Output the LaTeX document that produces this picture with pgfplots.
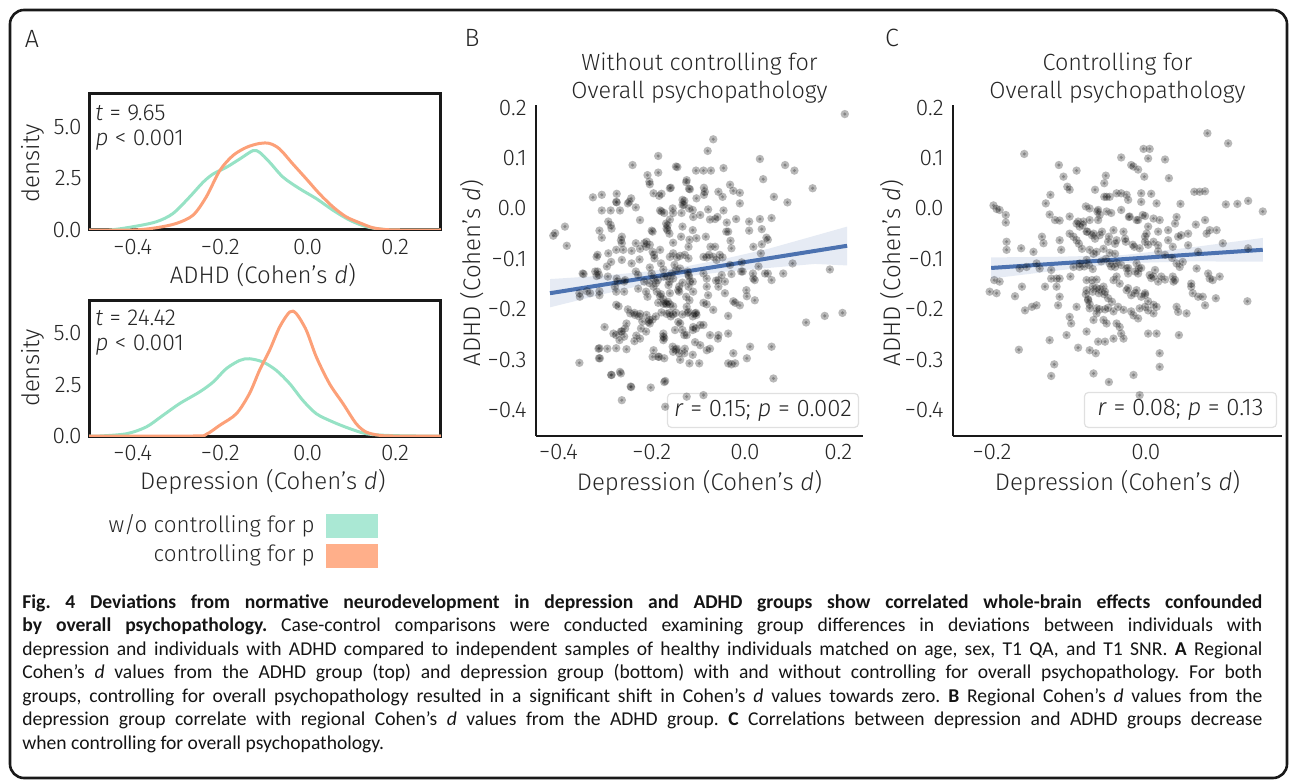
\documentclass[border=0pt]{standalone}
\usepackage{pgfplots}
\pgfplotsset{compat=1.18}
\usepackage{pgfplotstable}
\usepackage{fontspec}
\setmainfont{Fira Sans}[UprightFont=* Light, ItalicFont=* Light Italic, BoldFont=* Medium]
\newfontfamily\capfont{Carlito}
\newcommand{\ap}{{\char"27}}
\definecolor{txt}{RGB}{38,38,38}
\definecolor{gline}{RGB}{150,226,197}
\definecolor{oline}{RGB}{252,160,120}
\definecolor{gpatch}{RGB}{170,232,212}
\definecolor{opatch}{RGB}{255,175,138}
\definecolor{sblue}{RGB}{76,114,176}
\pgfdeclareplotmark{ring}{%
  \pgfpathcircle{\pgfpointorigin}{\pgfplotmarksize}\pgfusepathqfill
  \pgfpathcircle{\pgfpointorigin}{0.4\pgfplotmarksize}\pgfusepathqfill}

\pgfplotstableread{
x y
0.214 0.187
-0.068 0.137
-0.080 0.114
-0.186 0.104
0.032 0.098
-0.241 0.086
-0.145 0.082
-0.046 0.080
0.086 0.086
0.106 0.075
-0.105 0.075
-0.089 0.075
-0.073 0.075
-0.186 0.071
-0.209 0.066
-0.205 0.053
-0.204 0.048
-0.125 0.056
-0.126 0.052
0.039 0.058
-0.032 0.047
-0.161 0.040
-0.196 0.030
-0.179 0.029
-0.088 0.041
-0.086 0.033
-0.088 0.027
-0.118 0.038
-0.057 0.033
-0.048 0.023
-0.025 0.035
-0.011 0.031
0.145 0.040
0.062 0.023
-0.326 0.022
-0.307 0.027
-0.275 0.029
-0.244 0.020
-0.248 0.013
-0.275 0.012
-0.130 0.015
-0.131 0.007
-0.104 0.020
-0.011 0.010
0.091 0.012
-0.307 -0.004
-0.288 -0.004
-0.268 -0.004
-0.225 -0.023
-0.182 -0.004
-0.179 -0.006
-0.154 -0.009
-0.136 -0.009
-0.079 -0.002
-0.046 -0.004
-0.161 -0.022
-0.111 -0.017
-0.096 -0.013
-0.075 -0.022
-0.064 -0.021
-0.059 -0.017
-0.039 -0.028
-0.040 -0.046
-0.019 -0.021
0.009 -0.026
0.009 -0.044
0.032 -0.021
0.057 -0.019
-0.293 -0.026
-0.288 -0.033
-0.286 -0.040
-0.411 -0.054
-0.407 -0.049
-0.386 -0.036
-0.382 -0.074
-0.312 -0.044
-0.307 -0.058
-0.266 -0.063
-0.264 -0.056
-0.200 -0.044
-0.166 -0.033
-0.166 -0.043
-0.162 -0.050
-0.137 -0.056
-0.119 -0.062
-0.104 -0.059
-0.084 -0.056
-0.036 -0.046
0.036 -0.041
0.046 -0.058
-0.243 -0.084
-0.225 -0.080
-0.216 -0.069
-0.211 -0.066
-0.204 -0.072
-0.182 -0.082
-0.154 -0.068
-0.121 -0.076
-0.074 -0.076
-0.064 -0.076
-0.031 -0.064
-0.029 -0.079
0.018 -0.076
0.036 -0.071
-0.318 -0.096
-0.293 -0.089
-0.296 -0.115
-0.261 -0.082
-0.264 -0.102
-0.243 -0.109
-0.226 -0.101
-0.195 -0.092
-0.161 -0.096
-0.154 -0.089
-0.146 -0.097
-0.139 -0.094
-0.129 -0.092
-0.121 -0.099
-0.089 -0.096
-0.082 -0.097
-0.077 -0.092
-0.068 -0.096
-0.061 -0.102
-0.054 -0.092
-0.048 -0.097
-0.032 -0.112
-0.007 -0.107
-0.005 -0.125
0.029 -0.115
0.102 -0.109
0.182 -0.121
-0.346 -0.130
-0.321 -0.125
-0.318 -0.134
-0.275 -0.139
-0.257 -0.142
-0.229 -0.132
-0.204 -0.117
-0.200 -0.129
-0.196 -0.139
-0.175 -0.121
-0.174 -0.135
-0.157 -0.129
-0.154 -0.139
-0.139 -0.119
-0.121 -0.132
-0.118 -0.145
-0.089 -0.129
-0.082 -0.139
-0.057 -0.142
-0.050 -0.132
-0.043 -0.145
-0.029 -0.130
0.018 -0.139
0.021 -0.142
0.043 -0.129
0.057 -0.142
0.082 -0.129
-0.355 -0.168
-0.354 -0.175
-0.332 -0.168
-0.312 -0.172
-0.279 -0.155
-0.229 -0.159
-0.196 -0.155
-0.189 -0.165
-0.182 -0.174
-0.164 -0.152
-0.161 -0.168
-0.143 -0.162
-0.121 -0.155
-0.111 -0.165
-0.082 -0.155
-0.079 -0.172
-0.062 -0.143
-0.057 -0.155
-0.043 -0.168
-0.025 -0.184
-0.021 -0.187
-0.011 -0.192
0.004 -0.174
0.021 -0.182
-0.271 -0.194
-0.246 -0.208
-0.236 -0.211
-0.225 -0.209
-0.211 -0.211
-0.207 -0.225
-0.204 -0.228
-0.186 -0.187
-0.175 -0.189
-0.168 -0.190
-0.161 -0.190
-0.154 -0.194
-0.179 -0.206
-0.168 -0.209
-0.154 -0.210
-0.143 -0.225
-0.139 -0.228
-0.125 -0.195
-0.121 -0.205
-0.107 -0.208
-0.104 -0.211
-0.089 -0.187
-0.082 -0.190
-0.068 -0.201
-0.036 -0.213
-0.301 -0.235
-0.282 -0.248
-0.264 -0.244
-0.254 -0.228
-0.257 -0.238
-0.225 -0.258
-0.175 -0.248
-0.175 -0.254
-0.175 -0.261
-0.150 -0.241
-0.125 -0.251
-0.111 -0.235
-0.096 -0.231
-0.089 -0.231
-0.075 -0.251
-0.057 -0.251
-0.036 -0.248
0.131 -0.226
0.171 -0.213
0.209 -0.207
-0.314 -0.278
-0.311 -0.297
-0.295 -0.278
-0.254 -0.279
-0.196 -0.281
-0.186 -0.294
-0.154 -0.284
-0.146 -0.278
-0.129 -0.278
-0.107 -0.265
-0.096 -0.271
-0.082 -0.281
-0.075 -0.278
-0.025 -0.287
-0.021 -0.307
0.011 -0.274
0.004 -0.297
0.057 -0.274
-0.355 -0.306
-0.286 -0.330
-0.268 -0.324
-0.139 -0.300
-0.119 -0.307
-0.098 -0.307
-0.036 -0.307
-0.029 -0.309
0.061 -0.337
-0.245 -0.353
-0.202 -0.355
-0.171 -0.342
-0.264 -0.380
-0.171 -0.393
-0.148 0.083
-0.184 0.025
-0.159 0.041
-0.120 0.039
-0.276 0.013
-0.251 0.010
-0.234 0.002
-0.173 -0.009
-0.134 0.017
-0.134 0.007
-0.155 0.000
-0.120 0.000
-0.112 -0.003
-0.169 -0.030
-0.168 -0.040
-0.134 -0.036
-0.112 -0.043
-0.264 -0.069
-0.234 -0.069
-0.212 -0.076
-0.198 -0.046
-0.276 -0.082
-0.287 -0.106
-0.316 -0.092
-0.198 -0.086
-0.194 -0.099
-0.180 -0.109
-0.151 -0.112
-0.148 -0.122
-0.123 -0.125
-0.120 -0.135
-0.112 -0.145
-0.348 -0.129
-0.316 -0.125
-0.313 -0.132
-0.294 -0.135
-0.273 -0.145
-0.259 -0.145
-0.234 -0.125
-0.216 -0.145
-0.205 -0.148
-0.191 -0.148
-0.187 -0.142
-0.166 -0.135
-0.162 -0.145
-0.141 -0.155
-0.134 -0.147
-0.339 -0.164
-0.312 -0.164
-0.276 -0.165
-0.259 -0.165
-0.212 -0.165
-0.209 -0.175
-0.180 -0.170
-0.175 -0.180
-0.170 -0.188
-0.165 -0.185
-0.141 -0.165
-0.126 -0.175
-0.119 -0.182
-0.276 -0.191
-0.251 -0.200
-0.237 -0.207
-0.227 -0.214
-0.220 -0.224
-0.205 -0.221
-0.198 -0.220
-0.191 -0.214
-0.162 -0.207
-0.159 -0.214
-0.148 -0.207
-0.134 -0.210
-0.123 -0.207
-0.112 -0.214
-0.105 -0.207
-0.276 -0.251
-0.266 -0.244
-0.259 -0.254
-0.269 -0.261
-0.233 -0.252
-0.237 -0.263
-0.223 -0.238
-0.212 -0.244
-0.173 -0.257
-0.130 -0.251
-0.134 -0.241
-0.112 -0.241
-0.105 -0.238
-0.155 -0.274
-0.148 -0.280
-0.141 -0.287
-0.130 -0.287
-0.112 -0.290
-0.312 -0.277
-0.313 -0.297
-0.276 -0.277
-0.198 -0.294
-0.184 -0.294
-0.173 -0.297
-0.287 -0.330
-0.266 -0.327
-0.173 -0.344
-0.244 -0.354
0.049 -0.062
0.034 -0.089
0.049 -0.129
-0.008 -0.125
0.017 -0.129
0.003 -0.162
-0.058 -0.258
-0.125 -0.373
-0.089 -0.370
}\Bdata

\pgfplotstableread{
x y
0.080 0.149
0.107 0.129
-0.158 0.108
-0.003 0.118
0.005 0.118
-0.032 0.101
0.003 0.099
0.025 0.097
-0.113 0.086
-0.090 0.075
-0.019 0.086
-0.016 0.083
-0.010 0.077
-0.052 0.065
-0.054 0.050
-0.002 0.063
0.030 0.060
-0.107 0.063
-0.102 0.043
-0.099 0.037
-0.066 0.037
-0.051 0.023
-0.038 0.030
-0.032 0.030
-0.025 0.027
-0.023 0.017
-0.006 0.030
-0.006 0.013
0.007 0.029
0.063 0.033
0.070 0.033
0.077 0.034
-0.124 0.027
-0.130 0.010
-0.198 0.006
-0.194 -0.001
-0.190 -0.003
-0.182 -0.013
-0.182 -0.028
0.104 0.008
0.119 0.009
0.133 0.015
0.152 -0.006
0.014 0.010
0.045 0.009
-0.125 -0.012
-0.118 -0.023
-0.112 -0.024
-0.099 -0.016
-0.088 -0.026
-0.081 -0.026
-0.073 -0.023
-0.063 -0.006
-0.051 -0.006
-0.045 -0.009
-0.062 -0.023
-0.022 -0.017
-0.012 -0.023
-0.001 -0.015
0.010 -0.020
0.018 -0.023
0.040 -0.017
0.038 -0.030
0.065 -0.032
0.077 -0.023
-0.181 -0.066
-0.181 -0.082
-0.162 -0.079
-0.146 -0.086
-0.135 -0.056
-0.133 -0.069
-0.112 -0.063
-0.110 -0.082
-0.099 -0.050
-0.094 -0.056
-0.090 -0.063
-0.077 -0.046
-0.068 -0.050
-0.060 -0.053
-0.049 -0.066
-0.038 -0.063
-0.027 -0.060
-0.042 -0.043
-0.029 -0.046
-0.015 -0.076
-0.001 -0.066
-0.001 -0.056
0.001 -0.050
0.010 -0.066
0.016 -0.073
0.029 -0.063
0.035 -0.076
0.046 -0.053
0.055 -0.073
0.079 -0.050
0.083 -0.043
0.092 -0.043
0.100 -0.069
0.133 -0.079
0.068 -0.086
-0.197 -0.142
-0.190 -0.145
-0.203 -0.165
-0.194 -0.168
-0.170 -0.174
-0.161 -0.155
-0.157 -0.202
-0.148 -0.195
-0.142 -0.192
-0.164 -0.119
-0.155 -0.116
-0.142 -0.109
-0.138 -0.119
-0.123 -0.122
-0.123 -0.139
-0.116 -0.139
-0.112 -0.139
-0.131 -0.155
-0.116 -0.155
-0.112 -0.175
-0.114 -0.192
-0.098 -0.135
-0.094 -0.116
-0.086 -0.116
-0.077 -0.102
-0.077 -0.142
-0.070 -0.142
-0.064 -0.141
-0.077 -0.162
-0.069 -0.165
-0.061 -0.168
-0.053 -0.165
-0.090 -0.195
-0.075 -0.182
-0.073 -0.198
-0.064 -0.208
-0.068 -0.221
-0.053 -0.200
-0.049 -0.197
-0.042 -0.204
-0.036 -0.195
-0.029 -0.201
-0.042 -0.142
-0.038 -0.135
-0.034 -0.149
-0.025 -0.162
-0.019 -0.172
-0.012 -0.162
-0.006 -0.175
-0.001 -0.168
-0.047 -0.109
-0.040 -0.116
-0.025 -0.119
-0.023 -0.129
-0.012 -0.109
-0.009 -0.119
-0.010 -0.129
0.005 -0.132
0.010 -0.135
0.012 -0.122
0.020 -0.135
0.035 -0.135
0.038 -0.142
0.040 -0.109
0.044 -0.116
0.048 -0.106
0.066 -0.119
0.059 -0.149
0.059 -0.155
0.061 -0.168
0.068 -0.175
0.074 -0.175
0.081 -0.129
0.083 -0.139
0.087 -0.142
0.096 -0.135
0.077 -0.192
0.091 -0.178
0.132 -0.184
0.040 -0.195
0.042 -0.205
0.053 -0.208
-0.001 -0.195
0.003 -0.202
0.010 -0.208
0.014 -0.195
-0.016 -0.212
-0.010 -0.218
-0.038 -0.228
-0.034 -0.235
-0.055 -0.221
-0.051 -0.228
-0.099 -0.215
-0.097 -0.228
-0.125 -0.261
-0.103 -0.251
-0.077 -0.244
-0.062 -0.264
-0.053 -0.264
-0.042 -0.258
-0.032 -0.248
-0.029 -0.258
0.003 -0.248
0.014 -0.248
0.043 -0.251
-0.165 -0.280
-0.088 -0.276
-0.073 -0.281
-0.065 -0.287
0.018 -0.287
0.018 -0.314
-0.119 -0.309
-0.123 -0.332
-0.068 -0.327
-0.016 -0.330
-0.048 -0.344
-0.054 0.023
-0.047 0.023
-0.078 0.004
-0.073 0.000
-0.062 -0.003
-0.060 -0.013
-0.090 -0.030
-0.086 -0.036
-0.082 -0.033
-0.076 -0.046
-0.070 -0.053
-0.066 -0.060
-0.057 -0.046
-0.048 -0.056
-0.040 -0.070
-0.087 -0.070
-0.083 -0.080
-0.073 -0.082
-0.068 -0.090
-0.064 -0.086
-0.055 -0.080
-0.047 -0.088
-0.040 -0.090
-0.086 -0.109
-0.080 -0.115
-0.074 -0.112
-0.069 -0.120
-0.058 -0.105
-0.052 -0.100
-0.045 -0.115
-0.038 -0.108
-0.069 -0.155
-0.064 -0.158
-0.060 -0.160
-0.055 -0.155
-0.078 -0.170
-0.075 -0.180
-0.073 -0.190
-0.054 -0.170
-0.049 -0.178
-0.044 -0.185
-0.064 -0.198
-0.060 -0.200
-0.032 -0.003
-0.021 -0.016
-0.010 -0.023
-0.004 -0.013
0.003 -0.036
0.016 -0.046
0.029 -0.043
0.042 -0.056
0.055 -0.050
-0.026 -0.066
-0.017 -0.072
-0.008 -0.079
0.003 -0.072
0.016 -0.085
0.025 -0.092
0.034 -0.098
-0.032 -0.112
-0.023 -0.118
-0.014 -0.125
-0.006 -0.118
0.007 -0.138
0.016 -0.145
0.025 -0.141
0.036 -0.145
-0.023 -0.158
-0.014 -0.168
-0.001 -0.171
0.003 -0.184
0.010 -0.191
-0.008 -0.198
-0.019 -0.204
-0.008 -0.370
}\Cdata

\pgfplotsset{
  densax/.style={
    anchor=south west, scale only axis, width=176pt,
    xmin=-0.5, xmax=0.305, ymin=0, ymax=6.6,
    axis line style={line width=1.5pt, black!90},
    major tick length=0pt,
    xtick={-0.4,-0.2,0,0.2}, xticklabels={−0.4,−0.2,0.0,0.2},
    ytick={0,2.5,5}, yticklabels={0.0,2.5,5.0},
    tick label style={font=\fontsize{11.3}{12}\selectfont, text=txt},
    xticklabel style={inner sep=0pt, yshift=-4.5pt},
    yticklabel style={inner sep=0pt, xshift=-3.5pt},
    label style={font=\fontsize{12}{13}\selectfont, text=txt},
    ylabel={density},
  },
  scatax/.style={
    anchor=south west, scale only axis, height=165.5pt,
    ymin=-0.451, ymax=0.205,
    axis x line*=bottom, axis y line*=left,
    axis line style={line width=1.1pt, black!90},
    major tick length=0pt, clip=false,
    ytick={-0.4,-0.3,-0.2,-0.1,0,0.1,0.2},
    yticklabels={−0.4,−0.3,−0.2,−0.1,0.0,0.1,0.2},
    tick label style={font=\fontsize{11.3}{12}\selectfont, text=txt},
    xticklabel style={inner sep=0pt, yshift=-4pt},
    yticklabel style={inner sep=0pt, xshift=-4.5pt},
    label style={font=\fontsize{12}{13}\selectfont, text=txt},
    xlabel={Depression (Cohen\ap s \textit{d})},
    ylabel={ADHD (Cohen\ap s \textit{d})},
  },
  pts/.style={only marks, mark=ring, mark size=2.1pt, mark options={fill=black, fill opacity=0.28, draw=none}},
}

\begin{document}
\begin{tikzpicture}[x=0.5pt,y=-0.5pt]
\useasboundingbox (0,0) rectangle (1290,780);
\draw[line width=1.3pt, rounded corners=7pt, black!90] (10,10) rectangle (1287,778);

% ---------- A top ----------
\begin{axis}[densax, at={(44.5pt,-115pt)}, height=68pt,
  xlabel={ADHD (Cohen\ap s \textit{d})},
  xlabel style={at={(axis description cs:0.494,-0.328)}, anchor=center},
  ylabel style={at={(axis description cs:-0.159,0.489)}, anchor=center}]
\addplot[gline, line width=1.5pt, smooth] coordinates {
(-0.50,0) (-0.453,0.0) (-0.399,0.16) (-0.346,0.40) (-0.308,0.80) (-0.270,1.60) (-0.239,2.32)
(-0.216,2.72) (-0.186,3.04) (-0.155,3.45) (-0.125,3.85) (-0.110,3.77) (-0.087,3.29)
(-0.056,2.56) (-0.018,2.00) (0.020,1.52) (0.058,0.96) (0.096,0.48) (0.134,0.16) (0.172,0.03) (0.21,0) (0.305,0)};
\addplot[oline, line width=1.5pt, smooth] coordinates {
(-0.50,0) (-0.399,0) (-0.346,0.11) (-0.300,0.32) (-0.262,0.72) (-0.232,1.60) (-0.201,2.88)
(-0.171,3.61) (-0.140,4.01) (-0.110,4.20) (-0.087,4.20) (-0.064,3.93) (-0.034,3.21)
(-0.003,2.48) (0.027,1.76) (0.058,1.12) (0.088,0.64) (0.119,0.35) (0.149,0.11) (0.180,0.02) (0.21,0) (0.305,0)};
\end{axis}

% ---------- A bottom ----------
\begin{axis}[densax, at={(44.5pt,-218pt)}, height=68pt,
  xlabel={Depression (Cohen\ap s \textit{d})},
  xlabel style={at={(axis description cs:0.494,-0.338)}, anchor=center},
  ylabel style={at={(axis description cs:-0.159,0.5)}, anchor=center}]
\addplot[gline, line width=1.5pt, smooth] coordinates {
(-0.50,0) (-0.475,0) (-0.414,0.11) (-0.369,0.44) (-0.331,1.00) (-0.293,1.57) (-0.247,2.14)
(-0.216,2.62) (-0.186,3.27) (-0.155,3.67) (-0.133,3.75) (-0.102,3.59) (-0.072,3.19)
(-0.041,2.54) (-0.011,1.73) (0.020,1.08) (0.058,0.68) (0.096,0.36) (0.134,0.11) (0.180,0.03) (0.248,0) (0.305,0)};
\addplot[oline, line width=1.5pt, smooth] coordinates {
(-0.50,0) (-0.262,0) (-0.232,0.08) (-0.201,0.52) (-0.163,1.08) (-0.133,2.06) (-0.110,3.19)
(-0.087,4.16) (-0.064,5.29) (-0.041,6.02) (-0.026,5.94) (-0.003,5.13) (0.020,3.83)
(0.050,2.54) (0.081,1.57) (0.111,0.60) (0.134,0.19) (0.165,0.03) (0.195,0) (0.305,0)};
\end{axis}

% ---------- B ----------
\begin{axis}[scatax, at={(268pt,-218pt)}, width=163.5pt,
  xmin=-0.448, xmax=0.253,
  xtick={-0.4,-0.2,0,0.2}, xticklabels={−0.4,−0.2,0.0,0.2},
  xlabel style={at={(axis description cs:0.5,-0.142)}, anchor=center},
  ylabel style={at={(axis description cs:-0.196,0.492)}, anchor=center}]
\addplot[pts] table {\Bdata};
\addplot[draw=none, fill=sblue, fill opacity=0.14] coordinates {
(-0.418,-0.140) (-0.3,-0.133) (-0.2,-0.124) (-0.13,-0.1155) (-0.05,-0.101) (0.05,-0.080) (0.15,-0.054) (0.219,-0.036)
(0.219,-0.113) (0.15,-0.110) (0.05,-0.118) (-0.05,-0.126) (-0.13,-0.1355) (-0.2,-0.148) (-0.3,-0.169) (-0.418,-0.196)};
\addplot[sblue, line width=2pt] coordinates {(-0.418,-0.168) (0.219,-0.074)};
\node[draw=black!12, fill=white, fill opacity=0.8, text opacity=1, rounded corners=2pt, line width=0.6pt,
  anchor=south east, minimum width=95.5pt, minimum height=17pt, inner sep=0pt,
  font=\fontsize{12}{14}\selectfont, text=txt] at (axis description cs:0.988,0.024)
  {\textit{r} = 0.15; \textit{p} = 0.002};
\node[anchor=base, font=\fontsize{11.7}{13}\selectfont, text=txt] at (axis description cs:0.5,1.1027) {Without controlling for};
\node[anchor=base, font=\fontsize{11.7}{13}\selectfont, text=txt] at (axis description cs:0.5,1.0182) {Overall psychopathology};
\end{axis}

% ---------- C ----------
\begin{axis}[scatax, at={(476.5pt,-218pt)}, width=164.5pt,
  xmin=-0.2506, xmax=0.177,
  xtick={-0.2,0}, xticklabels={−0.2,0.0},
  xlabel style={at={(axis description cs:0.5,-0.142)}, anchor=center},
  ylabel style={at={(axis description cs:-0.185,0.492)}, anchor=center}]
\addplot[pts] table {\Cdata};
\addplot[draw=none, fill=sblue, fill opacity=0.14] coordinates {
(-0.201,-0.097) (-0.12,-0.096) (-0.03,-0.0925) (0.06,-0.077) (0.152,-0.0585)
(0.152,-0.1055) (0.06,-0.105) (-0.03,-0.1085) (-0.12,-0.124) (-0.201,-0.139)};
\addplot[sblue, line width=2pt] coordinates {(-0.201,-0.118) (0.152,-0.082)};
\node[draw=black!12, fill=white, fill opacity=0.8, text opacity=1, rounded corners=2pt, line width=0.6pt,
  anchor=south east, minimum width=96pt, minimum height=17.5pt, inner sep=0pt,
  font=\fontsize{12}{14}\selectfont, text=txt] at (axis description cs:0.985,0.024)
  {\textit{r} = 0.08; \textit{p} = 0.13};
\node[anchor=base, font=\fontsize{11.7}{13}\selectfont, text=txt] at (axis description cs:0.5,1.1027) {Controlling for};
\node[anchor=base, font=\fontsize{11.7}{13}\selectfont, text=txt] at (axis description cs:0.5,1.0182) {Overall psychopathology};
\end{axis}

% ---------- annotations, panel letters, legend ----------
\begin{scope}[every node/.style={text=txt, inner sep=0pt}]
\node[anchor=west, font=\fontsize{11.5}{12}\selectfont] at (95,113) {\textit{t} = 9.65};
\node[anchor=west, font=\fontsize{11.5}{12}\selectfont] at (95,140) {\textit{p} < 0.001};
\node[anchor=west, font=\fontsize{11.5}{12}\selectfont] at (95,318) {\textit{t} = 24.42};
\node[anchor=west, font=\fontsize{11.5}{12}\selectfont] at (95,345) {\textit{p} < 0.001};
\node[font=\fontsize{12.5}{13}\selectfont] at (32,39) {A};
\node[font=\fontsize{12.5}{13}\selectfont] at (472,38) {B};
\node[font=\fontsize{12.5}{13}\selectfont] at (892,38) {C};
\node[anchor=east, font=\fontsize{11.2}{12}\selectfont] at (315,526) {w/o controlling for p};
\node[anchor=east, font=\fontsize{11.2}{12}\selectfont] at (315,555) {controlling for p};
\end{scope}
\fill[gpatch] (326,514) rectangle (378,538);
\fill[opatch] (326,544) rectangle (378,568);

% ---------- caption ----------
\node[anchor=north west, inner sep=0pt, align=left, text=black!92,
  font=\capfont\fontsize{9.8}{11.75}\selectfont\frenchspacing] at (22,594) {%
\makebox[620pt][s]{\bfseries Fig. 4 Deviations from normative neurodevelopment in depression and ADHD groups show correlated whole-brain effects confounded}\\
\makebox[620pt][s]{\textbf{by overall psychopathology.} Case-control comparisons were conducted examining group differences in deviations between individuals with}\\
\makebox[620pt][s]{depression and individuals with ADHD compared to independent samples of healthy individuals matched on age, sex, T1 QA, and T1 SNR. \textbf{A} Regional}\\
\makebox[620pt][s]{Cohen’s \textit{d} values from the ADHD group (top) and depression group (bottom) with and without controlling for overall psychopathology. For both}\\
\makebox[620pt][s]{groups, controlling for overall psychopathology resulted in a significant shift in Cohen’s \textit{d} values towards zero. \textbf{B} Regional Cohen’s \textit{d} values from the}\\
\makebox[620pt][s]{depression group correlate with regional Cohen’s \textit{d} values from the ADHD group. \textbf{C} Correlations between depression and ADHD groups decrease}\\
when controlling for overall psychopathology.};
\end{tikzpicture}
\end{document}
